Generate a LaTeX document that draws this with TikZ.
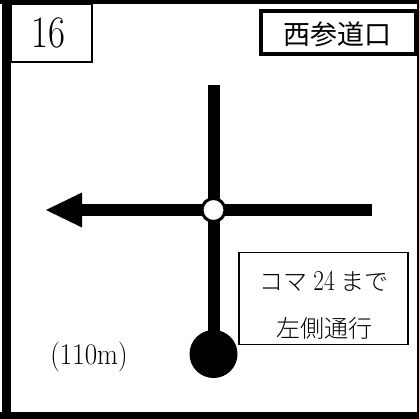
\documentclass[tikz,border=0pt]{standalone}
\usepackage{fontspec}
\usepackage{tikz}
\usetikzlibrary{positioning,backgrounds}
\usetikzlibrary{shapes,arrows,calc,arrows.meta}
\newfontfamily\jpfont{Noto Sans CJK JP}
\newfontfamily\jplight{Noto Sans CJK JP Light}
\newcommand{\narrow}[2]{\scalebox{#1}[1]{#2}}
\tikzset{
  labelbox/.style={draw, fill=white, line width=1.5pt, inner sep=0pt, outer sep=0pt},
  road/.style={line width=12pt},
  spot/.style={circle, inner sep=0pt, outer sep=0pt, minimum size=#1},
}
\begin{document}
\begin{tikzpicture}[x=1pt,y=-1pt]
  \useasboundingbox (0,0) rectangle (419,419);
  % Draw the outer frame
  \draw[line width=9pt] (6.5,0) -- (6.5,419);
  \draw[line width=4.5pt] (0,2.2) -- (419,2.2);
  \draw[line width=7pt] (0,415.5) -- (419,415.5);
  \draw[line width=2pt] (418,0) -- (418,419);

  % Number box and name box
  \node[labelbox, anchor=north west, minimum width=81pt, minimum height=58pt] (numberbox) at (11,4) {};
  \node[font=\fontsize{45}{45}\selectfont] (number) at (48,33) {\narrow{.82}{16}};
  \node[labelbox, line width=4pt, anchor=north west, minimum width=155.5pt, minimum height=43pt] (namebox) at (260.5,11) {};
  \node[font=\fontsize{27}{27}\jpfont] (name) at (337,34) {西参道口};

  % Draw the roads
  \coordinate (north) at (213.5,85);
  \coordinate (east) at (372,210);
  \coordinate (west) at (82,210);
  \node[spot=48pt, fill=black] (start) at (213.5,354) {};
  \node[spot=23pt, fill=white, draw, line width=3pt] (cross) at (213.5,210) {};
  \begin{pgfonlayer}{background}
    \draw[road] (north) -- (cross.center);
    \draw[road] (cross.center) -- (start.center);
    \draw[road] (cross.center) -- (east);
    \draw[road] (cross.center) -- (west);
  \end{pgfonlayer}
  \fill (west) ++(0,-17.5) -- ++(0,35) -- ++(-36,-17.5) -- cycle;

  % Note and distance
  \node[labelbox, anchor=north west, minimum width=169pt, minimum height=92pt] (notebox) at (239,252.5) {};
  \node[font=\fontsize{24}{24}\jplight] (note1) at (324,281) {コマ\hspace{6pt}{\rmfamily\narrow{.8}{\fontsize{29}{29}\selectfont 24}}\hspace{6pt}まで};
  \node[font=\fontsize{24}{24}\jplight] (note2) at (324,328) {左側通行};
  \node[font=\fontsize{30}{30}\selectfont] (distance) at (89,357) {\narrow{.9}{(110m)}};
\end{tikzpicture}
\end{document}
